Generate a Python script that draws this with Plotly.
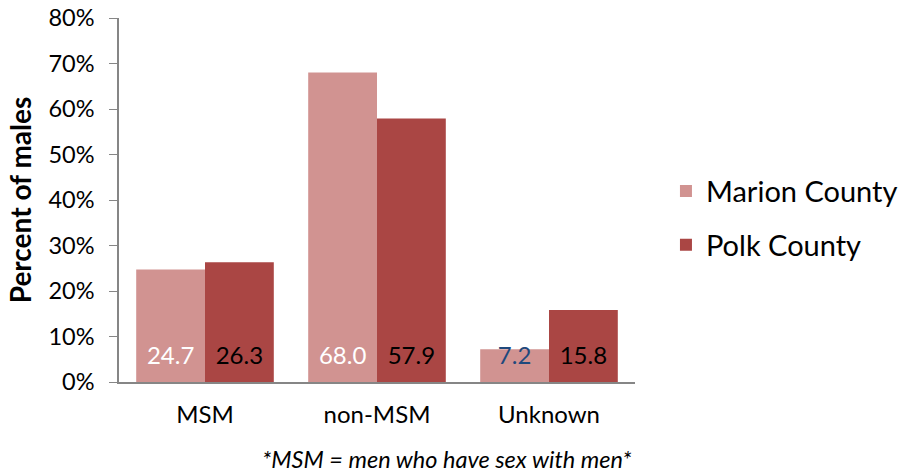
import plotly.graph_objects as go

categories = ["MSM", "non-MSM", "Unknown"]
marion = [24.7, 68.0, 7.2]
polk = [26.3, 57.9, 15.8]
marion_label_colors = ["white", "white", "#1F497D"]
polk_label_colors = ["black", "black", "black"]
label_y = 5.2  # data labels sit near the base of the bars
y_ticks = [0, 10, 20, 30, 40, 50, 60, 70, 80]

FONT = "Lato, Calibri, Carlito, sans-serif"
C_MARION = "#D19391"
C_POLK = "#AA4644"

fig = go.Figure()
fig.add_trace(go.Bar(x=categories, y=marion, name="Marion County", marker_color=C_MARION,
                     marker_line_width=0, legendgroup="m", offsetgroup="m", hoverinfo="skip"))
fig.add_trace(go.Bar(x=categories, y=polk, name="Polk County", marker_color=C_POLK,
                     marker_line_width=0, legendgroup="p", offsetgroup="p", hoverinfo="skip"))
fig.add_trace(go.Scatter(x=categories, y=[label_y] * 3, mode="text", text=[f"{v:.1f}" for v in marion],
                         textfont=dict(color=marion_label_colors, size=24, family=FONT),
                         showlegend=False, offsetgroup="m", hoverinfo="skip"))
fig.add_trace(go.Scatter(x=categories, y=[label_y] * 3, mode="text", text=[f"{v:.1f}" for v in polk],
                         textfont=dict(color=polk_label_colors, size=24, family=FONT),
                         showlegend=False, offsetgroup="p", hoverinfo="skip"))

fig.update_layout(
    width=904, height=476,
    margin=dict(l=119, r=269, t=18, b=94, autoexpand=False),
    paper_bgcolor="white", plot_bgcolor="white",
    barmode="group", bargap=0.2, bargroupgap=0,
    scattermode="group", scattergap=0.2,
    font=dict(family=FONT, size=24, color="black"),
    legend=dict(x=1.06, y=0.45, xanchor="left", yanchor="middle",
                font=dict(size=29, family=FONT), traceorder="grouped", tracegroupgap=13,
                itemwidth=30),
    annotations=[dict(text="<i>*MSM = men who have sex with men*</i>", xref="paper", yref="paper",
                      x=0.636, y=-0.212, xanchor="center", yanchor="middle", showarrow=False,
                      font=dict(size=23.5, family=FONT))],
)
fig.update_yaxes(range=[0, 80], tickvals=y_ticks, ticktext=[f"{v}%" for v in y_ticks],
                 showgrid=False, showline=True, linecolor="#868686", linewidth=1.5,
                 ticks="outside", ticklen=8, tickcolor="#868686", ticklabelstandoff=10,
                 tickfont=dict(size=23.5), automargin=False,
                 title=dict(text="<b>Percent of males</b>", font=dict(size=28), standoff=9),
                 zeroline=False)
fig.update_xaxes(showgrid=False, showline=True, linecolor="#868686", linewidth=1.5,
                 ticks="outside", ticklen=10, tickcolor="rgba(0,0,0,0)", automargin=False,
                 tickfont=dict(size=24))

fig.write_html("out.html", config={"displayModeBar": False},
               post_script="document.body.style.margin='0';")
